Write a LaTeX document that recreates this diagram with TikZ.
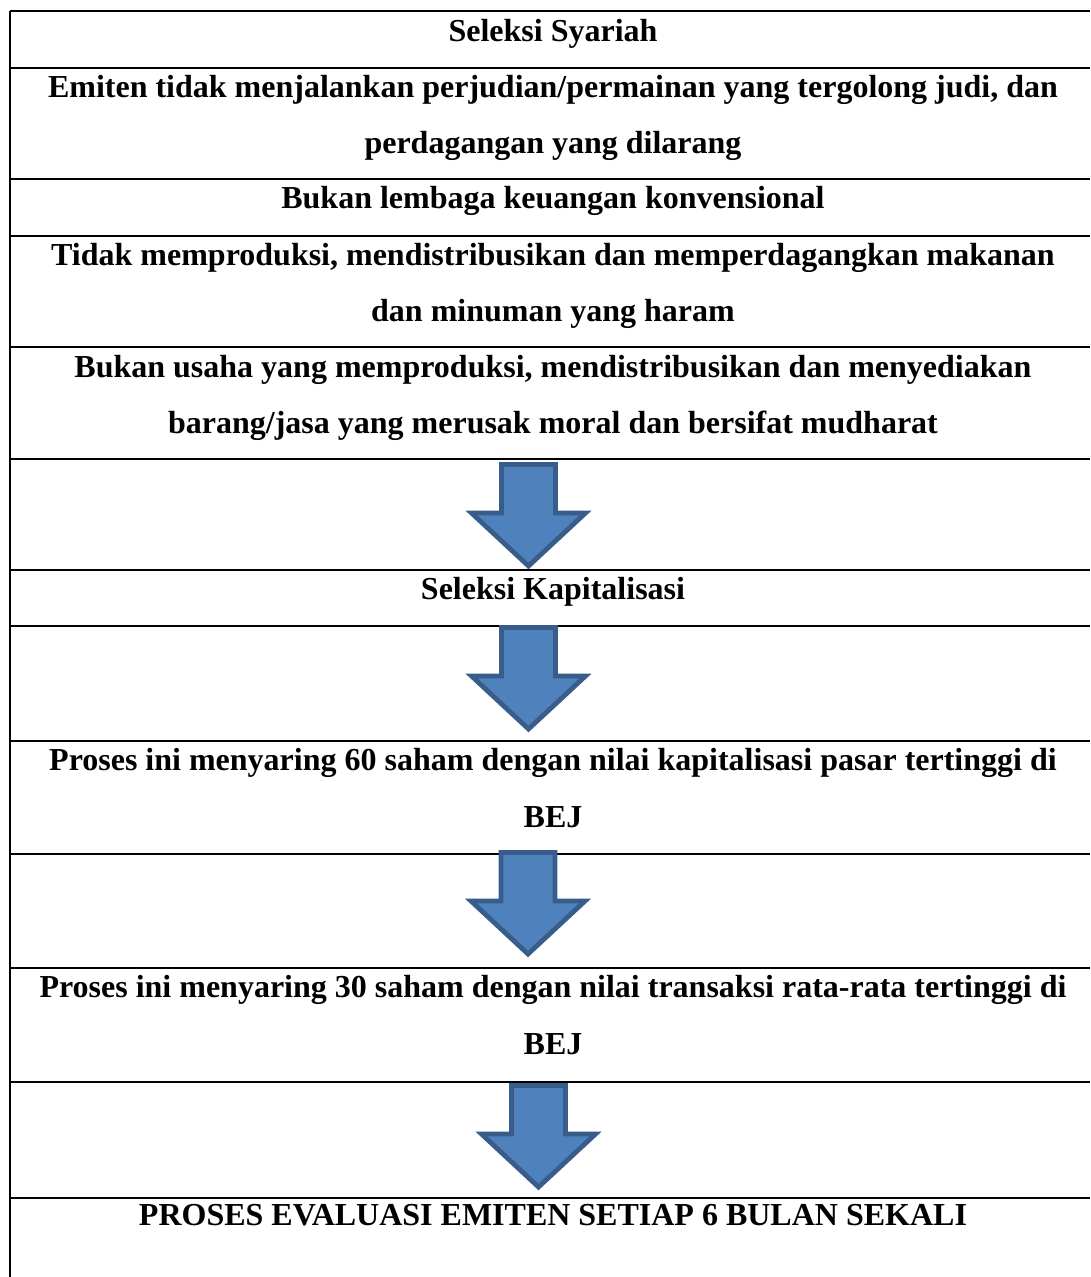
\documentclass[tikz,border=0pt]{standalone}
\usepackage{fontspec}
\setmainfont{Liberation Serif}
\definecolor{arrfill}{HTML}{4F81BD}
\definecolor{arrline}{HTML}{385D8A}
\begin{document}
\begin{tikzpicture}[x=0.5pt,y=-0.5pt,
  rule/.style={line width=1.1pt,black},
  txt/.style={anchor=base,inner sep=0pt,font=\fontsize{16}{18}\selectfont\bfseries},
  pics/bluearrow/.style={code={
    \fill[arrfill,draw=arrline,line width=2.4pt,line join=miter]
      (-27,2.5) -- (27,2.5) -- (27,51) -- (57,51) -- (0,104) -- (-57,51) -- (-27,51) -- cycle;
  }}]
\useasboundingbox (0,0) rectangle (1090,1277);
\fill[white] (0,0) rectangle (1090,1277);
% table rules
\draw[rule] (10,11) -- (10,1277);
\foreach \yy in {11,68,179,236,347,459,570,626,741,854,968,1082,1198}
  \draw[rule] (10,\yy) -- (1090,\yy);
% texts
\node[txt] (t1) at (553,42) {Seleksi Syariah};
\node[txt] (t2a) at (553,98) {Emiten tidak menjalankan perjudian/permainan yang tergolong judi, dan};
\node[txt] (t2b) at (553,154) {perdagangan yang dilarang};
\node[txt] (t3) at (553,209) {Bukan lembaga keuangan konvensional};
\node[txt] (t4a) at (553,266) {Tidak memproduksi, mendistribusikan dan memperdagangkan makanan};
\node[txt] (t4b) at (553,322) {dan minuman yang haram};
\node[txt] (t5a) at (553,378) {Bukan usaha yang memproduksi, mendistribusikan dan menyediakan};
\node[txt] (t5b) at (553,434) {barang/jasa yang merusak moral dan bersifat mudharat};
\node[txt] (t7) at (553,599) {Seleksi Kapitalisasi};
\node[txt] (t9a) at (553,770) {Proses ini menyaring 60 saham dengan nilai kapitalisasi pasar tertinggi di};
\node[txt] (t9b) at (553,827) {BEJ};
\node[txt] (t11a) at (553,997) {Proses ini menyaring 30 saham dengan nilai transaksi rata-rata tertinggi di};
\node[txt] (t11b) at (553,1054) {BEJ};
\node[txt] (t13) at (553,1225) {PROSES EVALUASI EMITEN SETIAP 6 BULAN SEKALI};
% arrows
\pic at (528.5,462) {bluearrow};
\pic at (528.5,625) {bluearrow};
\pic at (528,850) {bluearrow};
\pic at (538.5,1083) {bluearrow};
\end{tikzpicture}
\end{document}
